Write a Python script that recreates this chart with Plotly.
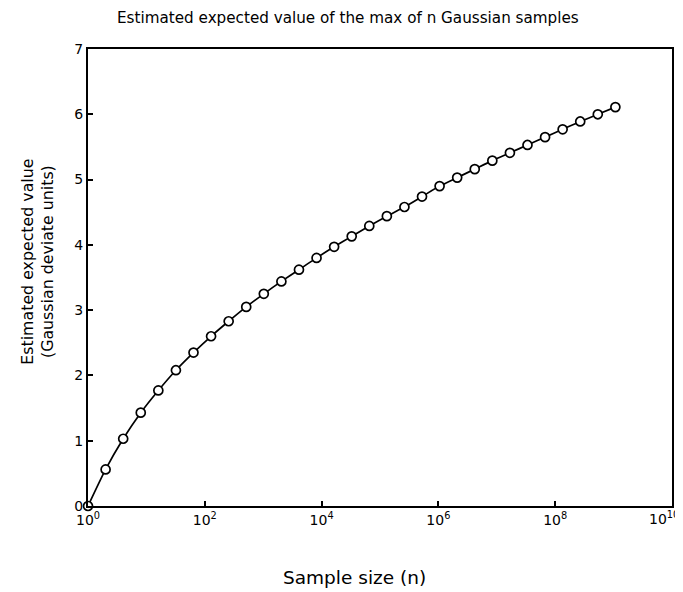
import plotly.graph_objects as go

# Sample sizes n = 2^k, k = 0..30
exponents = list(range(0, 31))
sample_size = [2 ** k for k in exponents]
expected_max = [0.0, 0.56, 1.03, 1.43, 1.77, 2.08, 2.35, 2.60, 2.83, 3.05, 3.25,
                3.44, 3.62, 3.80, 3.97, 4.13, 4.29, 4.44, 4.58, 4.74, 4.90,
                5.03, 5.16, 5.29, 5.41, 5.53, 5.65, 5.77, 5.89, 6.00, 6.11]

x_tick_vals = [1e0, 1e2, 1e4, 1e6, 1e8, 1e10]
x_tick_text = ["10<sup>0</sup>", "10<sup>2</sup>", "10<sup>4</sup>",
               "10<sup>6</sup>", "10<sup>8</sup>", "10<sup>10</sup>"]
y_tick_vals = [0, 1, 2, 3, 4, 5, 6, 7]

# page has an 8px body margin, so the figure is made 8px smaller
OFF = 8
W, H = 683 - OFF, 592 - OFF
ML, MR, MT, MB = 88 - OFF, W - (674 - OFF), 49 - OFF, H - (506 - OFF)
FONT = "DejaVu Sans, Verdana, sans-serif"

fig = go.Figure()
fig.add_trace(go.Scatter(
    x=sample_size, y=expected_max, mode="lines+markers",
    line=dict(color="black", width=1.7, shape="spline", smoothing=0.6),
    marker=dict(symbol="circle", size=9, color="white",
                line=dict(color="black", width=1.7)),
    cliponaxis=False, showlegend=False,
))

axis_common = dict(showgrid=False, zeroline=False, showline=True, linecolor="black",
                   linewidth=2, mirror=True, ticks="inside", ticklen=5, tickwidth=1.5,
                   tickcolor="black", tickfont=dict(family=FONT, size=14, color="black"))

# the last label would run past the page edge, so it is drawn as an annotation
# pinned to the right edge (the reference shows it cut off there)
fig.update_xaxes(type="log", range=[-0.0005, 10.0005], tickvals=x_tick_vals,
                 ticktext=x_tick_text[:-1] + [""], **axis_common)
fig.update_yaxes(range=[0, 7], tickvals=y_tick_vals, **axis_common)

plot_w = W - ML - MR
plot_h = H - MT - MB

def ann(text, px, py, size, angle=0):
    # px, py are reference-picture pixel positions
    return dict(text=text, xref="paper", yref="paper",
                x=((px - OFF) - ML) / plot_w,
                y=((H - (py - OFF)) - MB) / plot_h,
                showarrow=False, xanchor="center", yanchor="middle",
                textangle=angle, font=dict(family=FONT, size=size, color="black"))

annotations = [
    ann("Estimated expected value of the max of n Gaussian samples", 349, 18, 15.2),
    ann("Sample size (n)", 355, 577, 18.5),
    ann("Estimated expected value<br>(Gaussian deviate units)", 37.5, 262, 15.8, -90),
    dict(text=x_tick_text[-1], xref="x", yref="paper", x=10, y=0,
         xanchor="right", yanchor="top", xshift=MR - 1, yshift=-2, showarrow=False,
         borderpad=0, font=dict(family=FONT, size=14, color="black")),
]

fig.update_layout(
    width=W, height=H, margin=dict(l=ML, r=MR, t=MT, b=MB),
    paper_bgcolor="white", plot_bgcolor="white",
    annotations=annotations,
)

fig.write_html("out.html")
